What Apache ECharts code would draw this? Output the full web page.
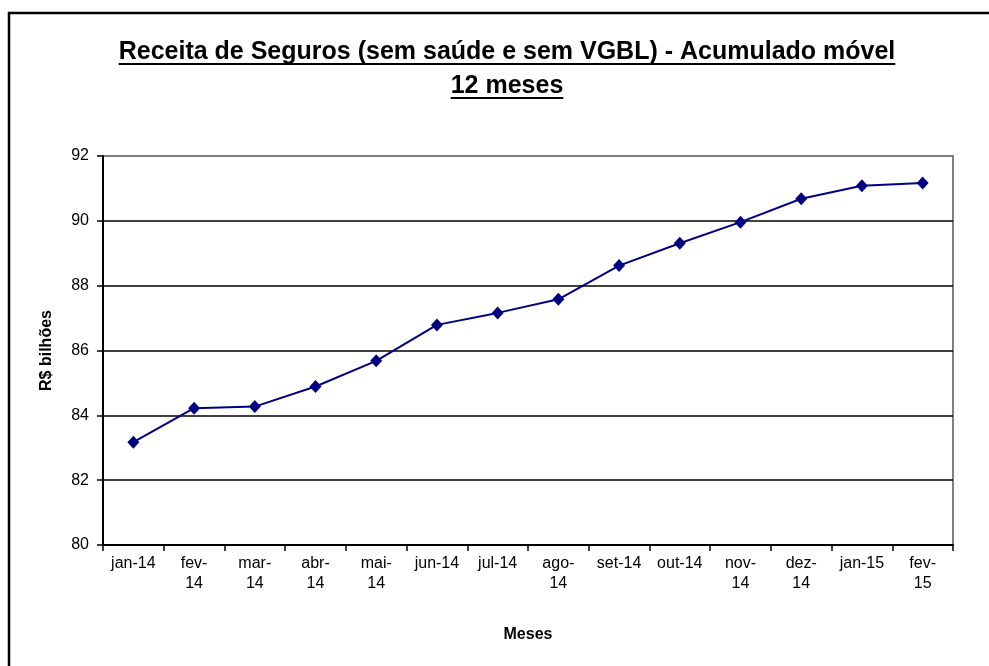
<!DOCTYPE html>
<html>
<head>
<meta charset="utf-8">
<script src="https://cdn.jsdelivr.net/npm/echarts@6/dist/echarts.min.js"></script>
<style>
  html, body { margin: 0; padding: 0; background: #fff; }
  #chart { width: 989px; height: 666px; }
</style>
</head>
<body>
<div id="chart"></div>
<script>
// meses e receita acumulada (R$ bilhões)
var months = ['jan-14', 'fev-14', 'mar-14', 'abr-14', 'mai-14', 'jun-14', 'jul-14',
  'ago-14', 'set-14', 'out-14', 'nov-14', 'dez-14', 'jan-15', 'fev-15'];
var tickLabels = ['jan-14', 'fev-\n14', 'mar-\n14', 'abr-\n14', 'mai-\n14', 'jun-14', 'jul-14',
  'ago-\n14', 'set-14', 'out-14', 'nov-\n14', 'dez-\n14', 'jan-15', 'fev-\n15'];
var receita = [83.17, 84.22, 84.27, 84.89, 85.68, 86.79, 87.16,
  87.58, 88.62, 89.31, 89.96, 90.68, 91.08, 91.17];
var titleLines = ['Receita de Seguros (sem saúde e sem VGBL) - Acumulado móvel', '12 meses'];

var titleFont = 'bold 25px "Liberation Sans", Arial, sans-serif';
var ctx = document.createElement('canvas').getContext('2d');
ctx.font = titleFont;

var cx = 507;
var graphics = [{
  type: 'rect',
  shape: { x: 9, y: 13, width: 1000, height: 700 },
  style: { fill: 'none', stroke: '#000', lineWidth: 2.5 }
}];
titleLines.forEach(function (t, i) {
  var y = 52 + i * 34;
  var w = ctx.measureText(t).width;
  graphics.push({
    type: 'text',
    style: { text: t, x: cx, y: y, font: titleFont, fill: '#000', align: 'center', verticalAlign: 'middle' }
  });
  graphics.push({
    type: 'line',
    shape: { x1: cx - w / 2, y1: y + 12, x2: cx + w / 2, y2: y + 12 },
    style: { stroke: '#000', lineWidth: 2 }
  });
});

var myChart = echarts.init(document.getElementById('chart'));
myChart.setOption({
  animation: false,
  backgroundColor: '#fff',
  textStyle: { fontFamily: '"Liberation Sans", Arial, sans-serif' },
  graphic: graphics,
  grid: {
    left: 103, right: 36, top: 156, bottom: 121,
    show: true, borderColor: '#808080', borderWidth: 2
  },
  xAxis: {
    type: 'category',
    data: months,
    boundaryGap: true,
    name: 'Meses',
    nameLocation: 'middle',
    nameGap: 82,
    nameTextStyle: { fontSize: 16, fontWeight: 'bold', color: '#000' },
    axisLine: { lineStyle: { color: '#000', width: 2 } },
    axisTick: { show: true, length: 6, lineStyle: { color: '#000', width: 1.5 } },
    axisLabel: {
      color: '#000', fontSize: 16, margin: 9, interval: 0, lineHeight: 20,
      formatter: function (v, i) { return tickLabels[i]; }
    }
  },
  yAxis: {
    type: 'value',
    min: 80, max: 92, interval: 2,
    name: 'R$ bilhões',
    nameLocation: 'middle',
    nameGap: 48,
    nameTextStyle: { fontSize: 16, fontWeight: 'bold', color: '#000' },
    axisLine: { show: true, lineStyle: { color: '#000', width: 2 } },
    axisTick: { show: true, length: 6, lineStyle: { color: '#000', width: 1.5 } },
    axisLabel: { color: '#000', fontSize: 16, margin: 14 },
    splitLine: { show: true, showMaxLine: false, lineStyle: { color: '#000', width: 1.5 } }
  },
  series: [{
    type: 'line',
    data: receita,
    symbol: 'diamond',
    symbolSize: [12, 13],
    lineStyle: { color: '#000080', width: 2 },
    itemStyle: { color: '#000080' }
  }]
});
</script>
</body>
</html>
